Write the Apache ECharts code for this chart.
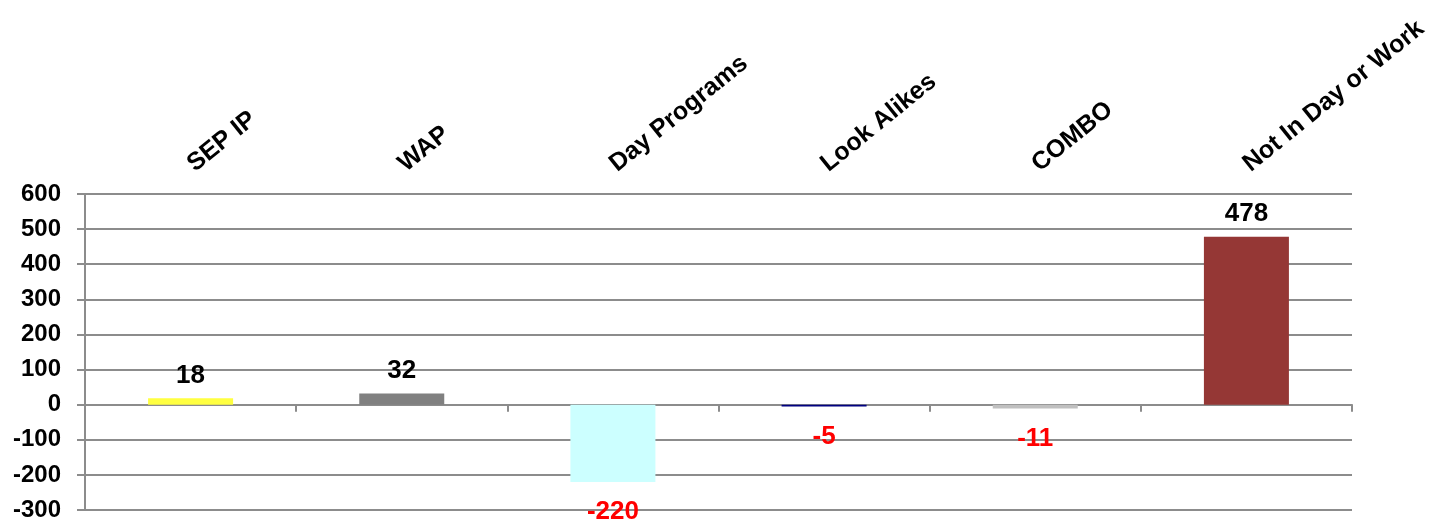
<!DOCTYPE html>
<html><head><meta charset="utf-8">
<script src="https://cdn.jsdelivr.net/npm/echarts@6/dist/echarts.min.js"></script>
<style>html,body{margin:0;padding:0;background:#fff}#c{width:1452px;height:523px}</style>
</head><body><div id="c"></div>
<script>
const categories = ["SEP IP", "WAP", "Day Programs", "Look Alikes", "COMBO", "Not In Day or Work"];
const values = [18, 32, -220, -5, -11, 478];
const barColors = ["#FFFF40", "#808080", "#CCFFFF", "#000080", "#C0C0C0", "#953735"];

const chart = echarts.init(document.getElementById('c'));
const font = 'Liberation Sans, Arial, sans-serif';
chart.setOption({
  animation: false,
  grid: { left: 85, right: 100, top: 194, bottom: 13 },
  xAxis: [
    {
      type: 'category', data: categories, position: 'bottom',
      axisLine: { onZero: true, lineStyle: { color: '#8c8c8c', width: 2 } },
      axisTick: { show: true, alignWithLabel: false, length: 7, lineStyle: { color: '#8c8c8c', width: 2 } },
      axisLabel: { show: false }, splitLine: { show: false }
    },
    {
      type: 'category', data: categories, position: 'top',
      axisLine: { show: false }, axisTick: { show: false },
      axisLabel: { show: true, rotate: -39, margin: 27, interval: 0,
        color: '#000', fontWeight: 'bold', fontSize: 25, fontFamily: font }
    }
  ],
  yAxis: {
    type: 'value', min: -300, max: 600, interval: 100,
    axisLine: { show: true, lineStyle: { color: '#8c8c8c', width: 2 } },
    axisTick: { show: true, length: 8, lineStyle: { color: '#8c8c8c', width: 2 } },
    axisLabel: { margin: 24, color: '#000', fontWeight: 'bold', fontSize: 24, fontFamily: font },
    splitLine: { show: true, lineStyle: { color: '#8c8c8c', width: 2 } }
  },
  series: [{
    type: 'bar', xAxisIndex: 0, barWidth: 85,
    data: values.map((v, i) => ({
      value: v,
      itemStyle: { color: barColors[i] },
      label: {
        show: true,
        position: v >= 0 ? 'top' : 'bottom',
        distance: v >= 0 ? 10 : 17,
        color: v >= 0 ? '#000' : '#FF0000',
        fontWeight: 'bold', fontSize: 26, fontFamily: font
      }
    }))
  }]
});
</script></body></html>
